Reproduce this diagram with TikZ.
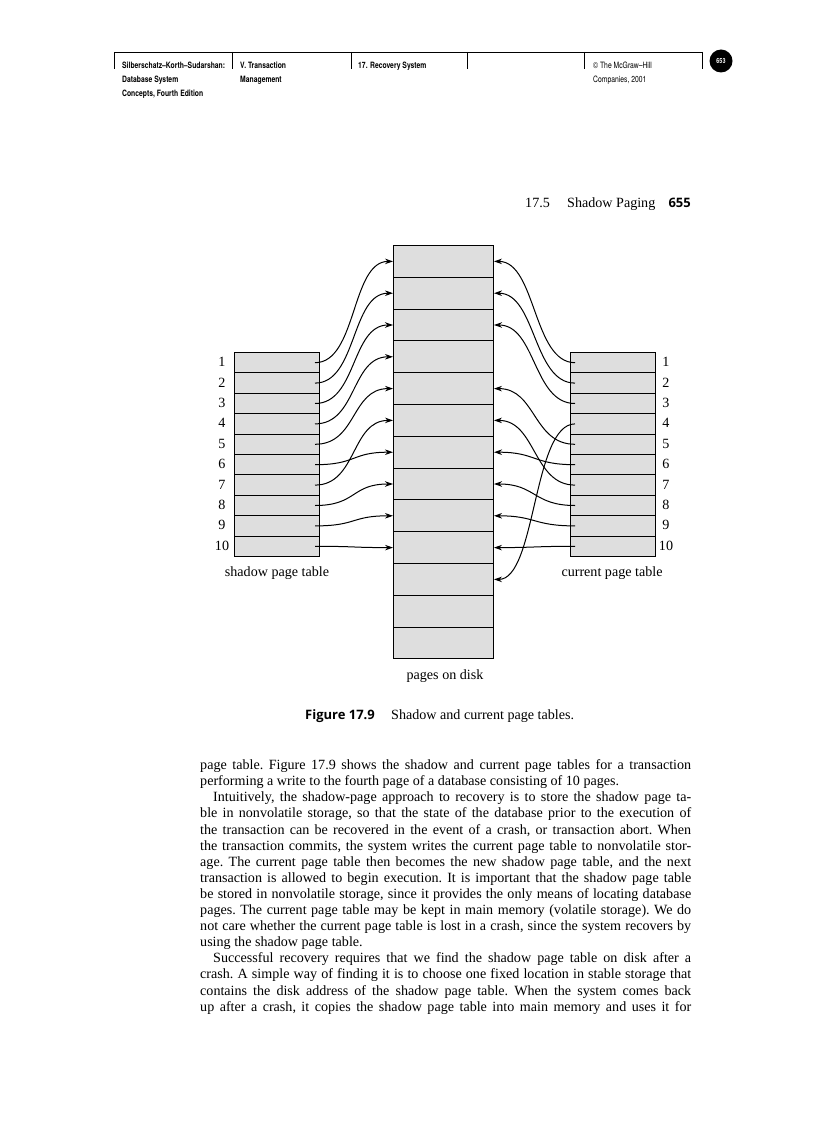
\documentclass[tikz,border=0pt]{standalone}
\usepackage{fontspec}
\setmainfont{Liberation Serif}
\newfontfamily\narrowsans[FakeStretch=0.78]{TeX Gyre Heros}
\newfontfamily\capsans{Open Sans}
\usetikzlibrary{arrows.meta}

\newcommand{\bookfont}{\fontsize{14.1}{16.1}\selectfont}
\newcommand{\headfont}{\narrowsans\bfseries\fontsize{8.7}{14}\selectfont}
\newcommand{\headlight}{\narrowsans\fontsize{8.7}{14}\selectfont}
\newcommand{\capfont}{\capsans\bfseries\fontsize{13}{14}\selectfont}

\begin{document}
\begin{tikzpicture}
  [x=1pt,y=-1pt,
   every node/.style={inner sep=0pt},
   slot/.style={draw,line width=1pt,fill=black!13,minimum width=85pt,minimum height=20.4pt,anchor=north west},
   diskpage/.style={draw,line width=1pt,fill=black!13,minimum width=100pt,minimum height=31.8pt,anchor=north west},
   link/.style={line width=1pt,-{Stealth[length=8pt,width=5.5pt]}},
   label/.style={font=\bookfont}]
  \useasboundingbox (0,0) rectangle (816,1123);

  % running head
  \draw[line width=0.6pt] (114,52) -- (702,52);
  \foreach \x in {114,232,351,467,584,702}
    \draw[line width=0.6pt] (\x,52) -- (\x,69);
  \node[anchor=base west,font=\headfont] (h1) at (122,68.5) {Silberschatz–Korth–Sudarshan:};
  \node[anchor=base west,font=\headfont] (h2) at (122,82.5) {Database System};
  \node[anchor=base west,font=\headfont] (h3) at (122,96.5) {Concepts, Fourth Edition};
  \node[anchor=base west,font=\headfont] (h4) at (240,68.5) {V. Transaction};
  \node[anchor=base west,font=\headfont] (h5) at (240,82.5) {Management};
  \node[anchor=base west,font=\headfont] (h6) at (358,68.5) {17. Recovery System};
  \node[anchor=base west,font=\headlight] (h7) at (593,68.5) {© The McGraw–Hill};
  \node[anchor=base west,font=\headlight] (h8) at (593,82.5) {Companies, 2001};
  \node[circle,fill=black,text=white,minimum width=23pt,minimum height=21pt,
        font=\narrowsans\bfseries\fontsize{7}{8}\selectfont] (pgno) at (721,61) {653};

  \node[anchor=base west,label] (sec) at (525,208) {17.5};
  \node[anchor=base west,label] (sectitle) at (567,208) {Shadow Paging};
  \node[anchor=base east,font=\capfont] (folio) at (691,208) {655};

  % pages on disk
  \foreach \k in {1,...,13}
    \node[diskpage] (d\k) at (393,{245+31.8*(\k-1)}) {};

  % shadow and current page tables
  \foreach \i in {1,...,10} {
    \node[slot] (s\i) at (234,{352+20.4*(\i-1)}) {};
    \node[slot] (c\i) at (570,{352+20.4*(\i-1)}) {};
    \node[label] (sn\i) at (222,{362+20.4*(\i-1)}) {\i};
    \node[label] (cn\i) at (666,{362+20.4*(\i-1)}) {\i};
  }

  \foreach \from/\to in {1/1,2/2,3/3,4/4,5/5,6/7,7/6,8/8,9/9,10/10}
    \draw[link] ([xshift=-5pt]s\from.east) .. controls +(42,0) and +(-42,0) .. (d\to.west);
  \foreach \from/\to in {1/1,2/2,3/3,4/11,5/5,6/7,7/6,8/8,9/9,10/10}
    \draw[link] ([xshift=5pt]c\from.west) .. controls +(-42,0) and +(42,0) .. (d\to.east);

  \node[label] (shadowlbl) at (277,573) {shadow page table};
  \node[label] (currentlbl) at (612,573) {current page table};
  \node[label] (disklbl) at (445,676) {pages on disk};

  % caption
  \node[anchor=base west,font=\capfont] (fig) at (305,719.5) {Figure 17.9};
  \node[anchor=base west,label] (figtext) at (391,719.5) {Shadow and current page tables.};

  % body text
  \node[anchor=north west,text width=491pt,align=justify,font=\bookfont] (body) at (200,759.5) {%
    \frenchspacing\hyphenpenalty=10000 \tolerance=10000
    \spaceskip=0.25em plus 0.3em minus 0.09em
    page table. Figure 17.9 shows the shadow and current page tables for a transaction\linebreak
    performing a write to the fourth page of a database consisting of 10 pages.\par
    \hspace*{13pt}Intuitively, the shadow-page approach to recovery is to store the shadow page ta-\linebreak
    ble in nonvolatile storage, so that the state of the database prior to the execution of\linebreak
    the transaction can be recovered in the event of a crash, or transaction abort. When\linebreak
    the transaction commits, the system writes the current page table to nonvolatile stor-\linebreak
    age. The current page table then becomes the new shadow page table, and the next\linebreak
    transaction is allowed to begin execution. It is important that the shadow page table\linebreak
    be stored in nonvolatile storage, since it provides the only means of locating database\linebreak
    pages. The current page table may be kept in main memory (volatile storage). We do\linebreak
    not care whether the current page table is lost in a crash, since the system recovers by\linebreak
    using the shadow page table.\par
    \hspace*{13pt}Successful recovery requires that we find the shadow page table on disk after a\linebreak
    crash. A simple way of finding it is to choose one fixed location in stable storage that\linebreak
    contains the disk address of the shadow page table. When the system comes back\linebreak
    up after a crash, it copies the shadow page table into main memory and uses it for\parfillskip=0pt\par};
\end{tikzpicture}
\end{document}
